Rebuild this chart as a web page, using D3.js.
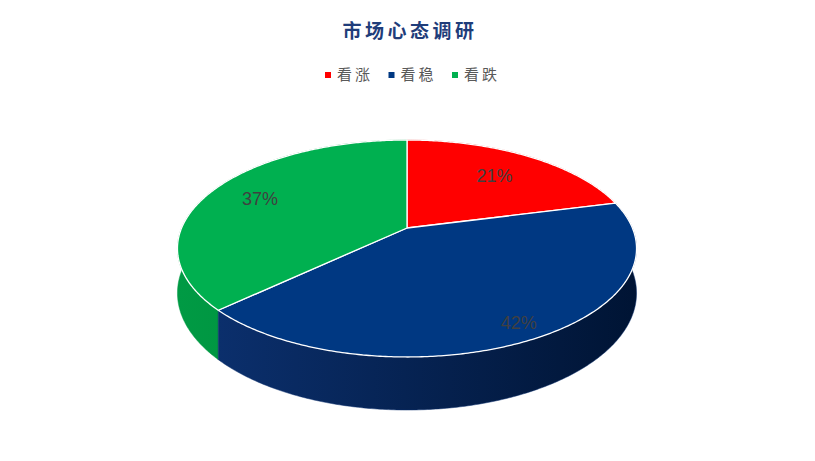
<html>
<head>
    <meta charset="utf-8">
    <script src="https://d3js.org/d3.v7.min.js" charSet="utf-8"></script>
    <style>
        body { margin: 0; background: #ffffff; }
        .title { font-family: "Noto Sans CJK SC", sans-serif; font-size: 19px; font-weight: bold; fill: #1f3d7a; letter-spacing: 3.5px; }
        .legend text { font-family: "Noto Sans CJK SC", sans-serif; font-size: 15px; fill: #595959; letter-spacing: 3px; }
        .pct { font-family: "Liberation Sans", Arial, sans-serif; font-size: 18px; fill: #404040; }
    </style>
</head>
<body>
<div id="vis_container"></div>
<script>
    // market sentiment survey shares (percent)
    let categories = ["看涨", "看稳", "看跌"];
    let values = [21, 42, 37];
    let colors = ["#ff0000", "#003882", "#00b050"];
    let sideColors = [["#d60000", "#b00000"], ["#0b2f6c", "#001434"], ["#009a44", "#008a3a"]];

    let width = 815, height = 461;

    let svg = d3.select("#vis_container")
        .append("svg")
        .attr("width", width)
        .attr("height", height);

    // perspective disk: centre, half axes, tilt factor and wall depth
    let cx = 407, cy = 228, A = 225.4, B = 104.6, k = 0.189, D = 43;
    // how far out (fraction of radius) each percentage label sits
    let labelR = [0.7, 0.88, 0.75];

    function project(phi, r, z) {
        let u = r * Math.sin(phi), v = -r * Math.cos(phi);
        let w = 1 - k * v;
        return [cx + A * u / w, cy + (B * v + D * z) / w];
    }

    let pie = d3.pie().sort(null).value(d => d)(values);

    let defs = svg.append("defs");
    sideColors.forEach(function(c, i) {
        let g = defs.append("linearGradient")
            .attr("id", "side" + i)
            .attr("x1", "0%").attr("x2", "100%")
            .attr("y1", "0%").attr("y2", "0%");
        g.append("stop").attr("offset", "0%").attr("stop-color", c[0]);
        g.append("stop").attr("offset", "100%").attr("stop-color", c[1]);
    });

    let line = d3.line();

    function arcPoints(a0, a1, r, z) {
        let n = Math.max(2, Math.ceil((a1 - a0) / 0.01));
        let pts = [];
        for (let j = 0; j <= n; j++) {
            pts.push(project(a0 + (a1 - a0) * j / n, r, z));
        }
        return pts;
    }

    // outer walls, back ones first
    let walls = pie.map(function(d, i) {
        return {i: i, d: d, mid: -Math.cos((d.startAngle + d.endAngle) / 2)};
    }).sort((a, b) => a.mid - b.mid);

    svg.append("g").selectAll("path")
        .data(walls)
        .enter()
        .append("path")
        .attr("d", function(s) {
            let top = arcPoints(s.d.startAngle, s.d.endAngle, 1, 0);
            let bot = arcPoints(s.d.startAngle, s.d.endAngle, 1, 1).reverse();
            return line(top.concat(bot)) + "Z";
        })
        .style("fill", s => "url(#side" + s.i + ")")
        .style("stroke", s => sideColors[s.i][0])
        .style("stroke-width", 0.5);

    // top faces
    svg.append("g").selectAll("path")
        .data(pie)
        .enter()
        .append("path")
        .attr("d", function(d) {
            let pts = [project(0, 0, 0)].concat(arcPoints(d.startAngle, d.endAngle, 1, 0));
            return line(pts) + "Z";
        })
        .style("fill", (d, i) => colors[i])
        .style("stroke", "#ffffff")
        .style("stroke-width", 1.3)
        .style("stroke-linejoin", "round");

    // percentage labels
    svg.append("g").selectAll("text")
        .data(pie)
        .enter()
        .append("text")
        .attr("class", "pct")
        .attr("x", (d, i) => project((d.startAngle + d.endAngle) / 2, labelR[i], 0)[0])
        .attr("y", (d, i) => project((d.startAngle + d.endAngle) / 2, labelR[i], 0)[1])
        .attr("dy", "0.35em")
        .style("text-anchor", "middle")
        .text(d => d.data + "%");

    // title
    svg.append("text")
        .attr("class", "title")
        .attr("x", 410)
        .attr("y", 38)
        .style("text-anchor", "middle")
        .text("市场心态调研");

    // legend
    let legendX = d3.scalePoint().domain(categories).range([328, 455]);
    let lg = svg.append("g").attr("class", "legend")
        .selectAll("g")
        .data(categories)
        .enter()
        .append("g")
        .attr("transform", d => "translate(" + legendX(d) + ",75)");
    lg.append("rect")
        .attr("x", -3).attr("y", -3)
        .attr("width", 6).attr("height", 6)
        .style("fill", (d, i) => colors[i]);
    lg.append("text")
        .attr("x", 9)
        .attr("dy", "0.36em")
        .text(d => d);
</script>
</body>
</html>
